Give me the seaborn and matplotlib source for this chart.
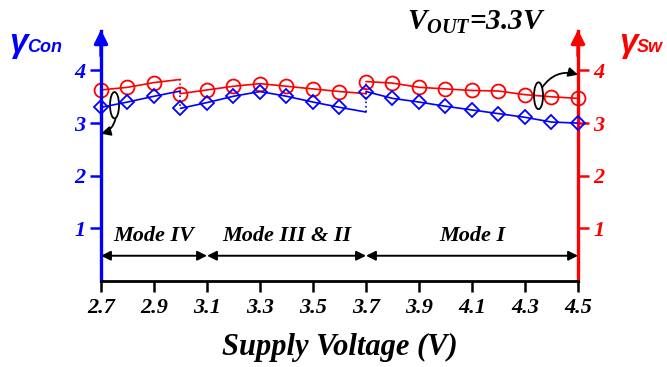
import matplotlib
matplotlib.use("Agg")
import matplotlib.pyplot as plt
import seaborn as sns
from matplotlib.patches import Ellipse

# Supply-voltage sweep, one segment per operating mode. The final point of the
# first two segments is where that mode hands over (drawn without a marker).
v_mode4 = [2.7, 2.8, 2.9, 3.0]
v_mode32 = [3.0, 3.1, 3.2, 3.3, 3.4, 3.5, 3.6, 3.7]
v_mode1 = [3.7, 3.8, 3.9, 4.0, 4.1, 4.2, 4.3, 4.4, 4.5]

# gamma_Con (left axis, blue diamonds)
con_mode4 = [3.30, 3.40, 3.51, 3.61]
con_mode32 = [3.28, 3.39, 3.51, 3.60, 3.51, 3.40, 3.30, 3.21]
con_mode1 = [3.60, 3.47, 3.40, 3.32, 3.25, 3.18, 3.11, 3.02, 3.00]

# gamma_Sw (right axis, red circles)
sw_mode4 = [3.63, 3.68, 3.77, 3.83]
sw_mode32 = [3.56, 3.63, 3.70, 3.75, 3.70, 3.65, 3.60, 3.56]
sw_mode1 = [3.79, 3.76, 3.68, 3.65, 3.62, 3.61, 3.54, 3.50, 3.47]

x_ticks = [2.7, 2.9, 3.1, 3.3, 3.5, 3.7, 3.9, 4.1, 4.3, 4.5]
y_ticks = [1, 2, 3, 4]
mode_names = ["Mode IV", "Mode III & II", "Mode I"]
mode_bounds = [2.7, 3.1, 3.7, 4.5]

BLUE = "#0000FF"
RED = "#FF0000"

sns.set_theme(style="white")
plt.rcParams["font.family"] = ["Liberation Serif", "DejaVu Serif"]
plt.rcParams["font.weight"] = "bold"
plt.rcParams["font.style"] = "italic"
plt.rcParams["text.color"] = "black"
plt.rcParams["axes.labelcolor"] = "black"
plt.rcParams["axes.labelweight"] = "bold"
plt.rcParams["mathtext.fontset"] = "custom"
plt.rcParams["mathtext.rm"] = "Liberation Serif:bold:italic"
plt.rcParams["mathtext.it"] = "Liberation Serif:bold:italic"

fig = plt.figure(figsize=(6.67, 3.67), dpi=100)
ax = fig.add_axes([101 / 667, 86 / 367, 477 / 667, 250 / 367])
ax2 = ax.twinx()

segments = [
    (v_mode4, con_mode4, sw_mode4, [0, 1, 2]),
    (v_mode32, con_mode32, sw_mode32, list(range(7))),
    (v_mode1, con_mode1, sw_mode1, list(range(9))),
]
for v, con, sw, marks in segments:
    sns.lineplot(x=v, y=con, ax=ax, color=BLUE, lw=1.2, marker="D",
                 markersize=7, markerfacecolor="none", markeredgecolor=BLUE,
                 markeredgewidth=1.3, markevery=marks, clip_on=False)
    sns.lineplot(x=v, y=sw, ax=ax2, color=RED, lw=1.2, marker="o",
                 markersize=10, markerfacecolor="none", markeredgecolor=RED,
                 markeredgewidth=1.3, markevery=marks, clip_on=False)

# dotted hand-over steps between modes
for left, right in [(0, 1), (1, 2)]:
    vx = segments[left][0][-1]
    ax.plot([vx, vx], [segments[left][1][-1], segments[right][1][0]],
            color=BLUE, lw=1.2, ls=":")
    ax2.plot([vx, vx], [segments[left][2][-1], segments[right][2][0]],
             color=RED, lw=1.2, ls=":")

for a in (ax, ax2):
    a.set_xlim(2.7, 4.5)
    a.set_ylim(0, 4.75)
    a.set_yticks(y_ticks)
    a.grid(False)
    a.set_ylabel("")

ax.set_xticks(x_ticks)
ax.set_xticklabels([f"{t:.1f}" for t in x_ticks], fontsize=16, color="black")
ax.set_yticklabels([str(t) for t in y_ticks], fontsize=16, color=BLUE)
ax2.set_yticklabels([str(t) for t in y_ticks], fontsize=16, color=RED)

ax.tick_params(axis="x", direction="out", length=8, width=1.8, colors="black",
               bottom=True, pad=4)
ax.tick_params(axis="y", direction="out", length=8, width=1.8, colors=BLUE,
               left=True, pad=3)
ax2.tick_params(axis="y", direction="out", length=8, width=1.8, colors=RED,
                right=True, pad=3)

for s in ("top", "right"):
    ax.spines[s].set_visible(False)
for s in ("top", "left", "bottom"):
    ax2.spines[s].set_visible(False)
ax.spines["left"].set_color(BLUE)
ax.spines["left"].set_linewidth(2.4)
ax.spines["bottom"].set_color("black")
ax.spines["bottom"].set_linewidth(2.0)
ax2.spines["right"].set_color(RED)
ax2.spines["right"].set_linewidth(2.4)
ax.set_zorder(ax2.get_zorder() + 1)
ax.patch.set_visible(False)

# arrow heads on both value axes
for xf, col in [(0, BLUE), (1, RED)]:
    ax.annotate("", xy=(xf, 1.005), xycoords="axes fraction",
                xytext=(xf, 0.9), textcoords="axes fraction",
                arrowprops=dict(arrowstyle="-|>", color=col, lw=2.4,
                                mutation_scale=20, shrinkA=0, shrinkB=0))

# operating-mode ranges
for name, lo, hi in zip(mode_names, mode_bounds[:-1], mode_bounds[1:]):
    ax.annotate("", xy=(hi, 0.48), xytext=(lo, 0.48),
                arrowprops=dict(arrowstyle="<|-|>", color="black", lw=1.4,
                                mutation_scale=14, shrinkA=0, shrinkB=0))
    ax.text((lo + hi) / 2, 0.85, name, ha="center", va="center", fontsize=16,
            color="black", fontweight="bold")

# ellipses marking each curve with the axis it belongs to
ax.add_patch(Ellipse((2.751, 3.34), 0.034, 0.50, fill=False, ec="black", lw=1.3))
ax.annotate("", xy=(2.7, 2.8), xytext=(2.755, 3.09),
            arrowprops=dict(arrowstyle="-|>", color="black", lw=1.3,
                            mutation_scale=14, shrinkA=0, shrinkB=0,
                            connectionstyle="arc3,rad=-0.3"))
ax.add_patch(Ellipse((4.351, 3.52), 0.034, 0.51, fill=False, ec="black", lw=1.3))
ax.annotate("", xy=(4.5, 3.92), xytext=(4.365, 3.68),
            arrowprops=dict(arrowstyle="-|>", color="black", lw=1.3,
                            mutation_scale=14, shrinkA=0, shrinkB=0,
                            connectionstyle="arc3,rad=-0.35"))

ax.set_xlabel("Supply Voltage (V)", fontsize=22, labelpad=11,
              fontweight="bold", color="black")

fig.text(407 / 667, 1 - 30 / 367, r"$V_{OUT}$=3.3V", fontsize=21,
         ha="left", va="baseline", color="black", fontweight="bold")

sans = ["Liberation Sans", "DejaVu Sans"]
fig.text(9 / 667, 1 - 52 / 367, "γ", color=BLUE, fontsize=24,
         family=sans, ha="left", va="baseline", fontweight="bold")
fig.text(27 / 667, 1 - 52 / 367, "Con", color=BLUE, fontsize=13,
         family=sans, ha="left", va="baseline", fontweight="bold")
fig.text(619 / 667, 1 - 52 / 367, "γ", color=RED, fontsize=24,
         family=sans, ha="left", va="baseline", fontweight="bold")
fig.text(637 / 667, 1 - 52 / 367, "Sw", color=RED, fontsize=13,
         family=sans, ha="left", va="baseline", fontweight="bold")

fig.savefig("out.png", dpi=100)
